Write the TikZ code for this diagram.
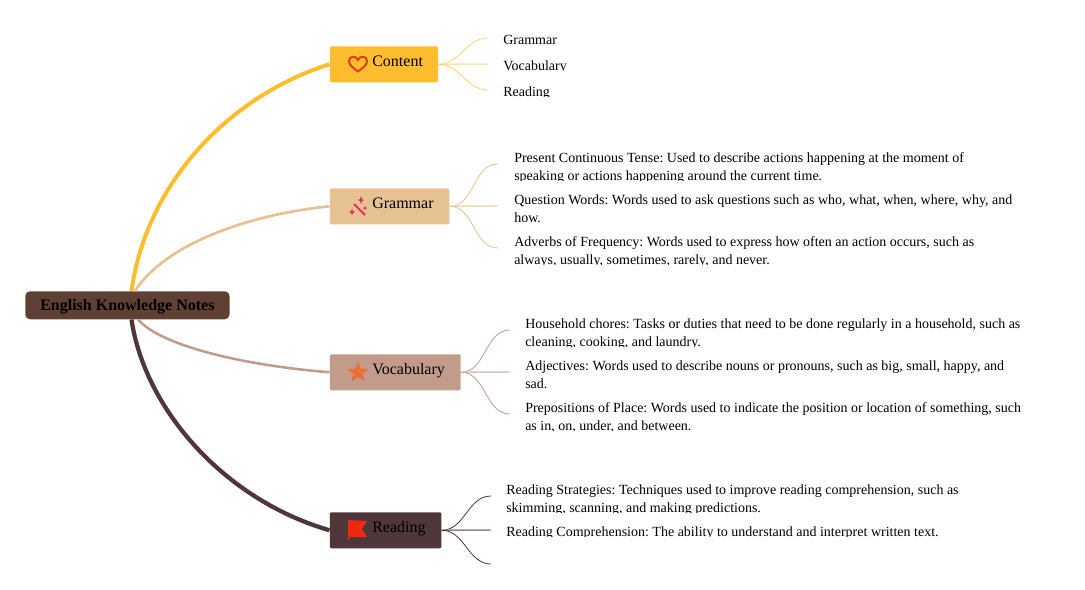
\documentclass[tikz,border=0pt]{standalone}
\usepackage{fontspec}
\setmainfont{Liberation Serif}
\usetikzlibrary{shapes.geometric, positioning}
\definecolor{notesroot}{HTML}{5F4035}
\definecolor{notesgold}{HTML}{FFBD2F}
\definecolor{notessand}{HTML}{E6C293}
\definecolor{notesrose}{HTML}{C39B8B}
\definecolor{notesplum}{HTML}{4E363A}
\definecolor{notesheart}{HTML}{D9401C}
\definecolor{noteswand}{HTML}{E5305F}
\definecolor{notesstar}{HTML}{E8703A}
\definecolor{notesflag}{HTML}{F0280F}
\frenchspacing
\tikzset{
    rootbox/.style={rounded corners=3.5pt, fill=notesroot, anchor=north west, font=\fontsize{12}{14}\selectfont\bfseries,
        inner xsep=11.25pt, inner ysep=0pt, text height=14.25pt, text depth=6.75pt},
    branchbox/.style={rounded corners=1pt, anchor=north west, font=\fontsize{12}{14}\selectfont,
        align=left, inner xsep=0pt, inner ysep=0pt, text height=15pt, text depth=12pt},
    leaftext/.style={anchor=base west, inner sep=0pt, align=left, font=\fontsize{10.5}{13.5}\selectfont},
    thinleaf/.style={line width=0.6pt},
    midleaf/.style={line width=1.1pt},
    cutstrip/.style={fill=white, draw=none}
}
\begin{document}
\begin{tikzpicture}[x=0.75pt, y=-0.75pt]
    \useasboundingbox (0, 0) rectangle (1085, 589);

    \node [rootbox] (root) at (25, 291) {English Knowledge Notes};

    \node [branchbox, fill=notesgold] (content) at (329.5, 46) {\hspace{31.9pt}Content\hspace{11.4pt}};
    \node [branchbox, fill=notessand] (grammar) at (329.5, 188) {\hspace{31.9pt}Grammar\hspace{11.8pt}};
    \node [branchbox, fill=notesrose] (vocab) at (329.5, 354) {\hspace{31.9pt}Vocabulary\hspace{11.8pt}};
    \node [branchbox, fill=notesplum] (reading) at (329.5, 512) {\hspace{31.9pt}Reading\hspace{11.8pt}};

    \draw [line width=3pt, color=notesgold] (root.74) .. controls (147, 180) and (232, 95) .. (content.west);
    \draw [line width=2pt, color=notessand] (root.62) .. controls (165, 245) and (245, 215) .. (grammar.west);
    \draw [line width=1.9pt, color=notesrose] (root.-53) .. controls (160, 345) and (240, 365) .. (vocab.west);
    \draw [line width=3.2pt, color=notesplum] (root.-74) .. controls (145, 410) and (225, 500) .. (reading.west);

    \coordinate (c1) at (488, 38);
    \coordinate (c2) at (488, 64);
    \coordinate (c3) at (488, 90);
    \coordinate (g1) at (498, 164);
    \coordinate (g2) at (498, 206);
    \coordinate (g3) at (498, 248);
    \coordinate (v1) at (510, 330);
    \coordinate (v2) at (510, 372);
    \coordinate (v3) at (510, 414);
    \coordinate (r1) at (491, 496);
    \coordinate (r2) at (491, 530);
    \coordinate (r3) at (491, 564);

    \draw [thinleaf, color=notesgold!70] (content.east) to [out=0, in=180] (c1);
    \draw [midleaf, color=notesgold!40] (content.east) -- (c2);
    \draw [thinleaf, color=notesgold!70] (content.east) to [out=0, in=180] (c3);

    \draw [thinleaf, color=notessand] (grammar.east) to [out=0, in=180] (g1);
    \draw [midleaf, color=notessand!60] (grammar.east) -- (g2);
    \draw [thinleaf, color=notessand] (grammar.east) to [out=0, in=180] (g3);

    \draw [thinleaf, color=notesrose] (vocab.east) to [out=0, in=180] (v1);
    \draw [midleaf, color=notesrose!60] (vocab.east) -- (v2);
    \draw [thinleaf, color=notesrose] (vocab.east) to [out=0, in=180] (v3);

    \draw [thinleaf, color=notesplum] (reading.east) to [out=0, in=180] (r1);
    \draw [midleaf, color=notesplum!60] (reading.east) -- (r2);
    \draw [thinleaf, color=notesplum] (reading.east) to [out=0, in=180] (r3);

    % icons
    \draw [line width=1.5pt, color=notesheart] (358, 71.5) .. controls (352, 67) and (349, 65) .. (349, 61)
        .. controls (349, 56) and (356, 55) .. (358, 60) .. controls (360, 55) and (367, 56) .. (367, 61)
        .. controls (367, 65) and (364, 67) .. (358, 71.5) -- cycle;
    \draw [line width=1.5pt, color=noteswand] (354, 204) -- (365, 215);
    \fill [color=noteswand] (361, 196) -- (362, 199) -- (364, 200) -- (362, 201) -- (361, 204) -- (360, 201) -- (358, 200) -- (360, 199) -- cycle;
    \fill [color=noteswand] (352, 209) -- (353, 211) -- (355, 212) -- (353, 213) -- (352, 215) -- (351, 213) -- (349, 212) -- (351, 211) -- cycle;
    \fill [color=noteswand] (365, 206) -- (365.7, 207.3) -- (367, 208) -- (365.7, 208.7) -- (365, 210) -- (364.3, 208.7) -- (363, 208) -- (364.3, 207.3) -- cycle;
    \node [star, star points=5, star point ratio=2.3, fill=notesstar, inner sep=0pt, minimum size=16.5pt] (staricon) at (358, 372.5) {};
    \fill [color=notesflag] (348, 520) -- (367, 521) -- (362, 529) -- (367, 537) -- (349, 537) -- (349, 540) -- (348, 540) -- cycle;

    % content leaves
    \node [leaftext] (l1) at (503, 44) {Grammar};
    \node [leaftext] (l2) at (503, 70) {Vocabulary};
    \node [leaftext] (l3) at (503, 96) {Reading};
    \fill [cutstrip] (500, 71) rectangle (580, 76);
    \fill [cutstrip] (500, 97) rectangle (580, 102);

    % grammar leaves
    \node [leaftext] (l4) at (514, 180) {Present Continuous Tense: Used to describe actions happening at the moment of\\speaking or actions happening around the current time.};
    \node [leaftext] (l5) at (514, 222) {Question Words: Words used to ask questions such as who, what, when, where, why, and\\how.};
    \node [leaftext] (l6) at (514, 264) {Adverbs of Frequency: Words used to express how often an action occurs, such as\\always, usually, sometimes, rarely, and never.};
    \fill [cutstrip] (510, 181) rectangle (1000, 186);
    \fill [cutstrip] (510, 265) rectangle (1000, 270);

    % vocabulary leaves
    \node [leaftext] (l7) at (525, 346) {Household chores: Tasks or duties that need to be done regularly in a household, such as\\cleaning, cooking, and laundry.};
    \node [leaftext] (l8) at (525, 388) {Adjectives: Words used to describe nouns or pronouns, such as big, small, happy, and\\sad.};
    \node [leaftext] (l9) at (525, 430) {Prepositions of Place: Words used to indicate the position or location of something, such\\as in, on, under, and between.};
    \fill [cutstrip] (520, 347) rectangle (1030, 352);
    \fill [cutstrip] (520, 431) rectangle (1030, 436);

    % reading leaves
    \node [leaftext] (l10) at (506, 512) {Reading Strategies: Techniques used to improve reading comprehension, such as\\skimming, scanning, and making predictions.};
    \node [leaftext] (l11) at (506, 536) {Reading Comprehension: The ability to understand and interpret written text.};
    \fill [cutstrip] (500, 513) rectangle (1000, 518);
    \fill [cutstrip] (500, 537) rectangle (1000, 542);
\end{tikzpicture}
\end{document}
